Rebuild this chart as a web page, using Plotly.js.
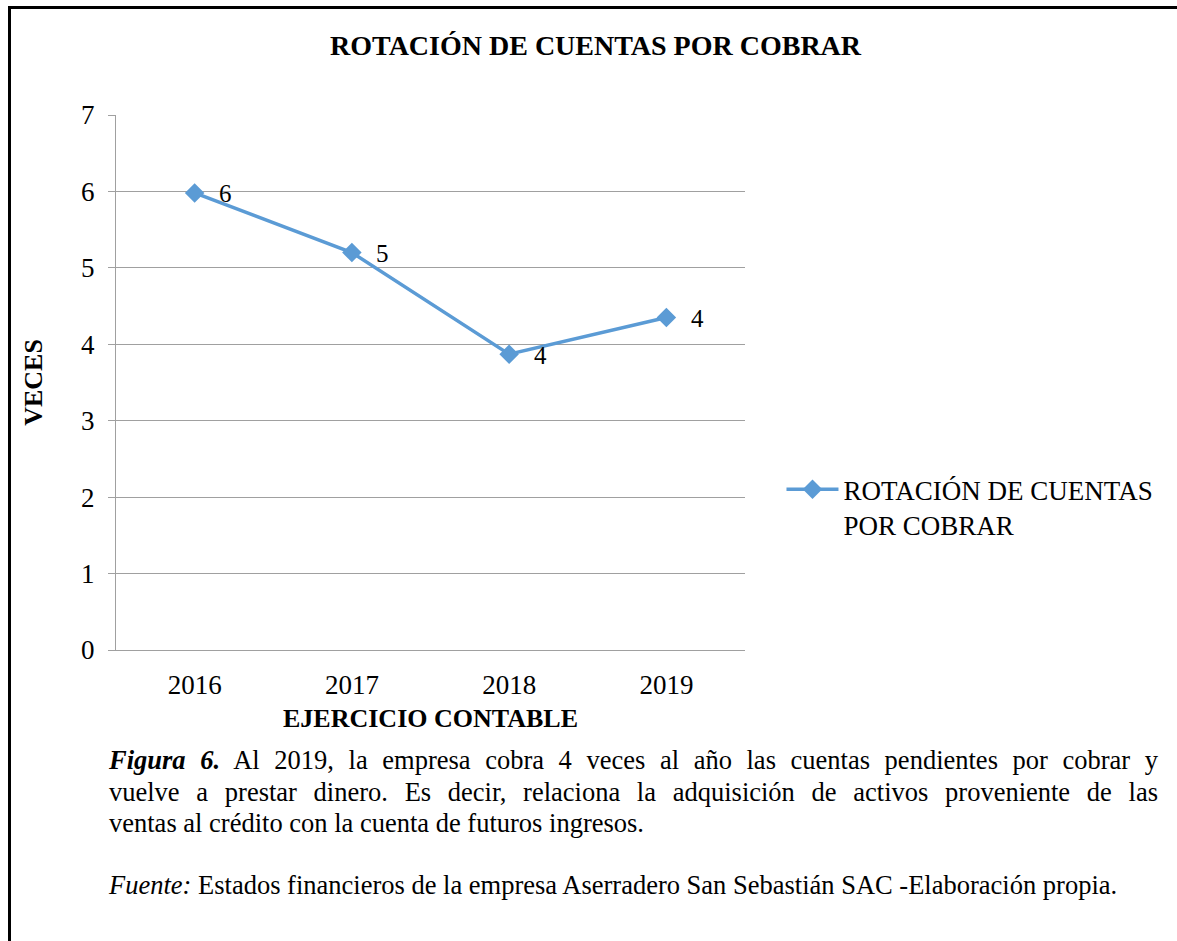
<!DOCTYPE html>
<html>
<head>
<meta charset="utf-8">
<script src="https://cdn.plot.ly/plotly-3.0.1.min.js"></script>
<style>
  html, body { margin: 0; padding: 0; background: #fff; }
  #wrap { position: relative; width: 1177px; height: 941px; overflow: hidden; }
  #frame { position: absolute; left: 8px; top: 6px; width: 1300px; height: 1100px;
           border-left: 3px solid #000; border-top: 3px solid #000; box-sizing: border-box; }
  #chart { position: absolute; left: 0; top: 0; width: 1177px; height: 941px; }
  .cap { position: absolute; left: 109px; width: 1049px; font-family: "Liberation Serif", "Times New Roman", serif;
         font-size: 26.5px; color: #000; line-height: 32px; white-space: nowrap; }
  .just { text-align: justify; text-align-last: justify; white-space: normal; }
</style>
</head>
<body>
<div id="wrap">
  <div id="frame"></div>
  <div id="chart"></div>
  <div class="cap just" style="top:744px;"><b><i>Figura 6.</i></b> Al 2019, la empresa cobra 4 veces al año las cuentas pendientes por cobrar y</div>
  <div class="cap just" style="top:776px;">vuelve a prestar dinero. Es decir, relaciona la adquisición de activos proveniente de las</div>
  <div class="cap" style="top:807px;">ventas al crédito con la cuenta de futuros ingresos.</div>
  <div class="cap" style="top:869px;"><i>Fuente:</i> Estados financieros de la empresa Aserradero San Sebastián SAC -Elaboración propia.</div>
</div>
<script>
const years = ['2016', '2017', '2018', '2019'];
const rotacion = [5.98, 5.20, 3.87, 4.35];
const seriesName = 'ROTACIÓN DE CUENTAS<br>POR COBRAR';
const yTicks = [0, 1, 2, 3, 4, 5, 6, 7];

const serif = 'Liberation Serif, Times New Roman, serif';
const blue = '#5b9bd5';

const trace = {
  x: years, y: rotacion, type: 'scatter', mode: 'lines+markers',
  name: seriesName,
  line: { color: blue, width: 3.5 },
  marker: { symbol: 'diamond', size: 15, color: blue },
  hoverinfo: 'skip'
};

// category axis: annotation x uses the category index
const annotations = years.map((yr, i) => ({
  x: i, y: rotacion[i], xref: 'x', yref: 'y',
  text: String(Math.round(rotacion[i])), showarrow: false,
  xshift: 31, yshift: -1,
  font: { family: serif, size: 25, color: '#000' }
}));

const layout = {
  width: 1177, height: 941,
  margin: { l: 116, r: 432, t: 115, b: 291 },
  paper_bgcolor: 'rgba(0,0,0,0)', plot_bgcolor: 'rgba(0,0,0,0)',
  showlegend: true,
  title: { text: '<b>ROTACIÓN DE CUENTAS POR COBRAR</b>', xref: 'container', x: 0.506, xanchor: 'center',
           yref: 'container', y: 1 - 45/941, yanchor: 'middle',
           font: { family: serif, size: 28, color: '#000' } },
  xaxis: {
    type: 'category', range: [-0.5, 3.5], showgrid: false, zeroline: false,
    showline: true, linecolor: '#a0a0a0', linewidth: 1, ticks: '',
    tickfont: { family: serif, size: 27, color: '#000' }, ticklabelstandoff: 11,
    title: { text: '<b>EJERCICIO CONTABLE</b>', standoff: 9, font: { family: serif, size: 26, color: '#000' } },
    fixedrange: true
  },
  yaxis: {
    range: [0, 7], tickvals: yTicks, ticktext: yTicks.map(String),
    showgrid: true, gridcolor: '#a0a0a0', gridwidth: 1, zeroline: false,
    showline: true, linecolor: '#a0a0a0', linewidth: 1,
    ticks: 'outside', ticklen: 7, tickcolor: '#a0a0a0',
    tickfont: { family: serif, size: 27, color: '#000' }, ticklabelstandoff: 8,
    title: { text: '<b>VECES</b>', standoff: 30, font: { family: serif, size: 26, color: '#000' } },
    fixedrange: true
  },
  legend: {
    x: 1.058, xanchor: 'left', y: 0.267, yanchor: 'middle', valign: 'top',
    font: { family: serif, size: 27, color: '#000' }, itemwidth: 52,
    bgcolor: 'rgba(0,0,0,0)'
  },
  annotations: annotations
};

Plotly.newPlot('chart', [trace], layout, { displayModeBar: false, staticPlot: true });
</script>
</body>
</html>
